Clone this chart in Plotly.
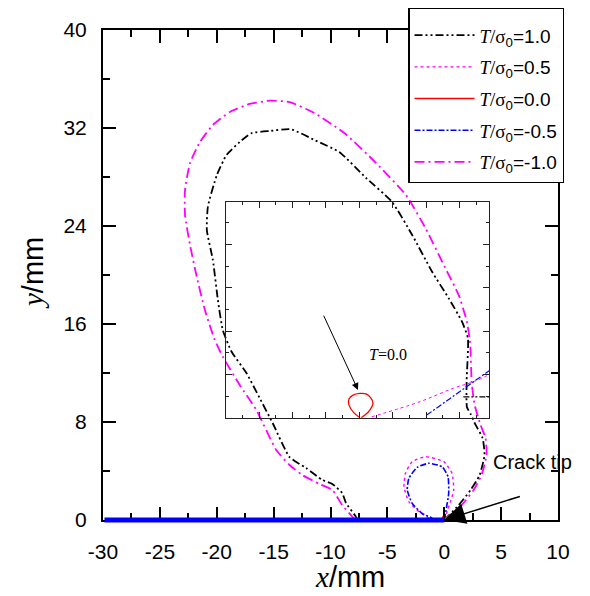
import plotly.graph_objects as go

# ---------------- data (mm) ----------------
# T/sigma0 = 1.0 (black, dash-dot-dot)
t10_x = [0.0, 1.27, 2.32, 3.11, 3.54, 3.37, 2.76, 2.32, 1.99, 1.97, 2.08, 1.56, 0.39, -1.07, -2.82,
         -4.59, -6.87, -9.23, -11.42, -13.46, -15.35, -16.96, -17.98, -19.14, -19.99, -20.78, -20.87,
         -20.34, -19.9, -19.47, -18.68, -17.39, -16.23, -15.09, -13.6, -12.14, -10.72, -9.84, -8.97,
         -8.64, -7.77, -7.66]
t10_y = [0.0, 1.22, 2.45, 3.67, 5.31, 6.69, 7.76, 8.65, 9.22, 11.43, 14.83, 16.19, 18.1, 20.27, 23.27,
         25.96, 27.92, 30.04, 31.02, 31.89, 31.76, 31.57, 30.86, 29.8, 28.16, 25.58, 23.67,
         21.22, 17.96, 15.51, 13.71, 12.0, 9.96, 7.92, 5.14, 4.24, 3.27, 2.94, 2.2,
         1.39, 0.27, 0.0]

# T/sigma0 = 0.5 (magenta, dotted)
t05_x = [0.0, 0.83, 0.68, -0.04, -1.64, -2.82, -3.41, -3.54, -3.11, -2.23, -1.36, -1.2]
t05_y = [0.0, 2.45, 3.81, 4.76, 5.17, 4.76, 3.81, 2.72, 1.49, 0.68, 0.14, 0.0]

# T/sigma0 = 0.0 (red, solid) - very small zone at the tip
t00_x = [0.0, -0.1, -0.12, 0.0, 0.12, 0.1, 0.02]
t00_y = [0.0, 0.1, 0.25, 0.32, 0.25, 0.1, 0.0]

# T/sigma0 = -0.5 (blue, dash-dot)
tm05_x = [0.0, 0.39, 0.33, -0.19, -1.36, -2.38, -3.11, -3.25, -2.82, -1.94, -1.07, -1.0]
tm05_y = [0.0, 2.18, 3.54, 4.35, 4.63, 4.3, 3.4, 2.45, 1.36, 0.54, 0.14, 0.0]

# T/sigma0 = -1.0 (magenta, dash-dot)
tm10_x = [0.0, 1.53, 2.58, 3.28, 3.72, 3.63, 3.19, 2.67, 2.41, 2.29, 1.99, 1.27, 0.1, -1.64, -3.37,
          -5.99, -8.79, -11.42, -13.6, -15.35, -17.1, -18.85, -20.34, -21.48, -22.35, -22.79, -22.79,
          -22.35, -21.76, -21.04, -20.17, -19.47, -17.98, -16.52, -14.77, -13.6, -12.47, -10.98,
          -9.84, -8.97, -8.09, -7.83]
tm10_y = [0.0, 1.22, 2.45, 3.67, 5.31, 6.69, 7.76, 9.39, 11.27, 14.29, 16.19, 18.37, 20.55, 23.81, 26.53,
          29.14, 31.59, 33.22, 34.12, 34.23, 33.96, 33.31, 32.24, 30.86, 29.14, 26.94, 24.9,
          22.45, 19.86, 17.14, 14.69, 13.33, 11.02, 8.98, 5.71, 4.49, 3.67, 2.94,
          2.45, 1.22, 0.27, 0.0]

# crack faces
crack_x = [-30, 0]
crack_y = [0, 0]

# tick labels
x_tickvals = [-30, -25, -20, -15, -10, -5, 0, 5, 10]
x_ticktext = ["-30", "-25", "-20", "-15", "-10", "-5", "0", "5", "10"]
y_tickvals = [0, 8, 16, 24, 32, 40]
y_ticktext = ["0", "8", "16", "24", "32", "40"]

# inset (magnified view near the tip, arbitrary units)
in_red_x = [4.02, 3.84, 3.69, 3.69, 3.81, 4.02, 4.20, 4.35, 4.41, 4.32, 4.17, 4.05]
in_red_y = [0.0, 0.11, 0.29, 0.43, 0.52, 0.56, 0.55, 0.45, 0.34, 0.18, 0.06, 0.0]
in_mag_x = [4.37, 5.82, 6.82, 7.42, 8.07]
in_mag_y = [0.02, 0.37, 0.68, 0.83, 1.06]
in_blue_x = [6.02, 8.07]
in_blue_y = [0.06, 1.18]
in_black_x = [7.12, 7.89]
in_black_y = [0.48, 0.48]
in_arrow = dict(tail_x=2.91, tail_y=2.39, head_x=3.96, head_y=0.64)

labels = ["1.0", "0.5", "0.0", "-0.5", "-1.0"]

SERIF = "Liberation Serif"
SANS = "Liberation Sans"


def leg(v):
    return ('<span style="font-family:%s"><i>T</i>/σ</span><sub>0</sub>=%s' % (SERIF, v))


fig = go.Figure()

series = [
    (t10_x, t10_y, "black", "8px,3px,2px,3px,2px,3px", 1.8),
    (t05_x, t05_y, "#ff00ff", "dot", 1.4),
    (t00_x, t00_y, "red", "solid", 1.5),
    (tm05_x, tm05_y, "blue", "6px,2px,2px,2px", 1.6),
    (tm10_x, tm10_y, "#ff00ff", "10px,4px,2px,4px", 1.8),
]
for i, (xs, ys, c, d, w) in enumerate(series):
    fig.add_trace(go.Scatter(
        x=xs, y=ys, mode="lines", name=leg(labels[i]), legendgroup="g%d" % i,
        line=dict(color=c, dash=d, width=w, shape="spline", smoothing=0.5),
        xaxis="x", yaxis="y"))

# inset traces
fig.add_trace(go.Scatter(x=in_red_x, y=in_red_y, mode="lines", showlegend=False,
                         line=dict(color="red", width=1.3, shape="spline", smoothing=0.8),
                         xaxis="x2", yaxis="y2"))
fig.add_trace(go.Scatter(x=in_mag_x, y=in_mag_y, mode="lines", showlegend=False,
                         line=dict(color="#ff00ff", width=1, dash="dot", shape="spline"),
                         xaxis="x2", yaxis="y2"))
fig.add_trace(go.Scatter(x=in_blue_x, y=in_blue_y, mode="lines", showlegend=False,
                         line=dict(color="blue", width=1.2, dash="6px,2px,2px,2px"),
                         xaxis="x2", yaxis="y2"))
fig.add_trace(go.Scatter(x=in_black_x, y=in_black_y, mode="lines", showlegend=False,
                         line=dict(color="black", width=1.2, dash="6px,2px,2px,2px,2px,2px"),
                         xaxis="x2", yaxis="y2"))

ax_common = dict(showline=True, linecolor="black", linewidth=2, mirror="ticks",
                 ticks="inside", tickcolor="black", tickwidth=1.5, ticklen=13,
                 showgrid=False, zeroline=False, tickmode="array",
                 tickfont=dict(family=SANS, size=21, color="black"))

# the page body adds an 8px offset; the figure is sized to fit the 590x596 window
fig.update_layout(
    width=582, height=588,
    margin=dict(l=95, r=32, t=22, b=76, autoexpand=False),
    paper_bgcolor="white", plot_bgcolor="rgba(0,0,0,0)",
    xaxis=dict(range=[-30, 10], tickvals=x_tickvals, ticktext=x_ticktext, ticklabelstandoff=12,
               minor=dict(dtick=2.5, tick0=0, ticks="inside", ticklen=7, tickcolor="black",
                          tickwidth=1.5),
               **ax_common),
    yaxis=dict(range=[0, 40], tickvals=y_tickvals, ticktext=y_ticktext, ticklabelstandoff=10,
               minor=dict(dtick=4, tick0=0, ticks="inside", ticklen=7, tickcolor="black",
                          tickwidth=1.5),
               **ax_common),
    xaxis2=dict(domain=[0.2703, 0.8484], range=[0, 7.89], anchor="y2", dtick=1, tick0=0,
                showline=True, linecolor="#222", linewidth=1.3, mirror="ticks",
                ticks="inside", ticklen=6, tickwidth=1, tickcolor="#222",
                minor=dict(dtick=0.5, ticks="inside", ticklen=3, tickcolor="#222", tickwidth=1),
                showticklabels=False, showgrid=False, zeroline=False),
    yaxis2=dict(domain=[0.2088, 0.649], range=[0, 4.978], anchor="x2", dtick=1, tick0=0,
                showline=True, linecolor="#222", linewidth=1.3, mirror="ticks",
                ticks="inside", ticklen=6, tickwidth=1, tickcolor="#222",
                minor=dict(dtick=0.5, ticks="inside", ticklen=3, tickcolor="#222", tickwidth=1),
                showticklabels=False, showgrid=False, zeroline=False),
    legend=dict(x=(408 - 103) / 455, y=(520 - 7) / 490, xanchor="left", yanchor="top",
                bgcolor="white", bordercolor="black", borderwidth=1.5,
                font=dict(family=SANS, size=19, color="black"),
                title=dict(text="&nbsp;", font=dict(size=6)),
                tracegroupgap=4, itemwidth=60),
    showlegend=True,
)

annotations = [
    # crack faces (thick blue line)
    dict(x=crack_x[1], y=crack_y[1], ax=crack_x[0], ay=crack_y[0], xref="x", yref="y",
         axref="x", ayref="y", text="", showarrow=True, arrowhead=0, arrowwidth=5,
         arrowcolor="blue", standoff=0, startstandoff=0),
    # crack tip arrow
    dict(x=0, y=0, ax=6.78, ay=1.96, xref="x", yref="y", axref="x", ayref="y", text="",
         showarrow=True, arrowhead=2, arrowsize=2.8, arrowwidth=1.5, arrowcolor="black", standoff=0),
    dict(x=7.74, y=4.73, xref="x", yref="y", text="Crack tip", showarrow=False,
         font=dict(family=SANS, size=20, color="black")),
    # inset arrow and label
    dict(x=in_arrow["head_x"], y=in_arrow["head_y"], ax=in_arrow["tail_x"], ay=in_arrow["tail_y"],
         xref="x2", yref="y2", axref="x2", ayref="y2", text="", showarrow=True, arrowhead=2,
         arrowsize=1.4, arrowwidth=1, arrowcolor="black", standoff=0),
    dict(x=4.85, y=1.45, xref="x2", yref="y2", showarrow=False,
         text="<i>T</i>=0.0", font=dict(family=SERIF, size=16, color="black")),
    # axis titles
    dict(x=(350 - 103) / 455, y=-(577 - 520) / 490, xref="paper", yref="paper", showarrow=False,
         xanchor="center", yanchor="middle",
         text='<span style="font-family:%s"><i>x</i></span>/mm' % SERIF,
         font=dict(family=SANS, size=29, color="black")),
    dict(x=-(103 - 33) / 455, y=(520 - 273) / 490, xref="paper", yref="paper", showarrow=False,
         xanchor="center", yanchor="middle", textangle=-90,
         text='<span style="font-family:%s"><i>y</i></span>/mm' % SERIF,
         font=dict(family=SANS, size=29, color="black")),
]
fig.update_layout(annotations=annotations)

fig.write_html("out.html")
